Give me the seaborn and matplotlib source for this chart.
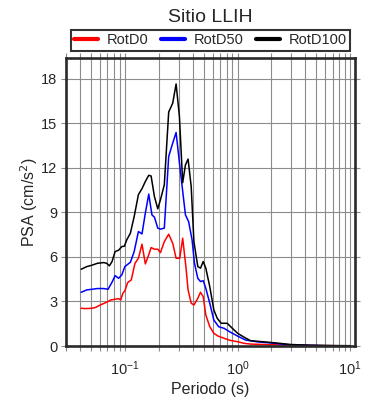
import numpy as np
import pandas as pd
import matplotlib
matplotlib.use("Agg")
import matplotlib.pyplot as plt
import seaborn as sns
from matplotlib.ticker import LogLocator, NullFormatter, MultipleLocator

sns.set_style("ticks")
plt.rcParams['font.family'] = ['Liberation Sans', 'DejaVu Sans']

# RotD0
period_d0 = [0.041, 0.045, 0.051, 0.055, 0.059, 0.063, 0.069, 0.075, 0.082, 0.088,
             0.092, 0.096, 0.1, 0.106, 0.114, 0.123, 0.132, 0.142, 0.152, 0.163,
             0.171, 0.183, 0.196, 0.207, 0.224, 0.245, 0.266, 0.285, 0.307, 0.326,
             0.348, 0.364, 0.388, 0.41, 0.444, 0.469, 0.496, 0.523, 0.567, 0.616,
             0.67, 0.76, 0.86, 1.0, 1.14, 1.3, 1.7, 2.4, 3.5, 5.0, 7.0, 10.0]
psa_d0 = [2.54, 2.52, 2.54, 2.6, 2.72, 2.82, 2.95, 3.1, 3.15, 3.19,
          3.1, 3.55, 3.71, 4.27, 4.45, 5.57, 5.91, 6.86, 5.53, 6.14,
          6.63, 6.52, 6.52, 6.29, 7.03, 7.53, 6.92, 5.91, 5.91, 7.26,
          5.35, 3.78, 2.88, 2.76, 3.21, 3.62, 3.32, 2.09, 1.3, 0.86,
          0.67, 0.52, 0.38, 0.29, 0.18, 0.13, 0.1, 0.07, 0.05, 0.03, 0.02, 0.01]

# RotD50
period_d50 = [0.041, 0.046, 0.051, 0.057, 0.065, 0.071, 0.077, 0.082, 0.088, 0.094,
              0.1, 0.112, 0.121, 0.132, 0.142, 0.152, 0.163, 0.174, 0.183, 0.196,
              0.207, 0.224, 0.245, 0.266, 0.285, 0.31, 0.345, 0.368, 0.395, 0.415,
              0.444, 0.469, 0.496, 0.523, 0.567, 0.616, 0.68, 0.76, 0.85, 1.0,
              1.18, 1.5, 2.0, 2.8, 4.0, 6.0, 10.0]
psa_d50 = [3.62, 3.78, 3.82, 3.87, 3.87, 3.82, 4.3, 4.74, 4.56, 4.79,
           5.35, 5.64, 6.36, 7.71, 7.55, 8.95, 10.23, 8.83, 8.68, 7.94,
           7.87, 7.94, 12.77, 13.67, 14.38, 11.87, 8.83, 8.38, 7.15, 5.57,
           4.56, 4.34, 4.4, 3.89, 2.88, 1.75, 1.3, 1.19, 0.96, 0.67,
           0.4, 0.28, 0.2, 0.09, 0.05, 0.02, 0.01]

# RotD100
period_d100 = [0.041, 0.046, 0.051, 0.057, 0.065, 0.069, 0.073, 0.077, 0.082, 0.088,
               0.094, 0.099, 0.104, 0.112, 0.121, 0.132, 0.142, 0.152, 0.163, 0.171,
               0.183, 0.196, 0.207, 0.224, 0.245, 0.266, 0.285, 0.305, 0.326, 0.345,
               0.364, 0.388, 0.41, 0.444, 0.469, 0.496, 0.523, 0.567, 0.616, 0.66,
               0.716, 0.81, 0.9, 1.0, 1.14, 1.3, 1.6, 2.1, 2.96, 4.5, 7.0, 10.0]
psa_d100 = [5.17, 5.35, 5.44, 5.57, 5.62, 5.57, 5.4, 5.69, 6.36, 6.45,
            6.7, 6.72, 7.15, 7.6, 8.72, 10.2, 10.6, 11.08, 11.5, 11.45,
            10.07, 9.24, 9.85, 10.86, 15.76, 16.36, 17.65, 15.46, 11.0, 12.2,
            12.59, 10.74, 7.03, 5.35, 5.24, 5.69, 5.24, 4.0, 2.43, 1.87,
            1.53, 1.53, 1.19, 0.86, 0.6, 0.36, 0.3, 0.22, 0.1, 0.05, 0.03, 0.02]

labels = ["RotD0", "RotD50", "RotD100"]
colors = ["#ff0000", "#0000ff", "#000000"]

df = pd.concat([
    pd.DataFrame({"Periodo": period_d0, "PSA": psa_d0, "Componente": labels[0]}),
    pd.DataFrame({"Periodo": period_d50, "PSA": psa_d50, "Componente": labels[1]}),
    pd.DataFrame({"Periodo": period_d100, "PSA": psa_d100, "Componente": labels[2]}),
], ignore_index=True)

fig = plt.figure(figsize=(3.9, 4.0), dpi=100)
ax = fig.add_axes([0.169, 0.135, 0.741, 0.72])

sns.lineplot(data=df, x="Periodo", y="PSA", hue="Componente", hue_order=labels,
             palette=dict(zip(labels, colors)), linewidth=1.1, ax=ax,
             estimator=None, sort=False, legend=False)

ax.set_xscale("log")
ax.set_xlim(0.03, 11)
ax.set_ylim(0, 19.4)
ax.yaxis.set_major_locator(MultipleLocator(3))
ax.xaxis.set_major_locator(LogLocator(base=10))
ax.xaxis.set_minor_locator(LogLocator(base=10, subs=np.arange(2, 10)))
ax.xaxis.set_minor_formatter(NullFormatter())

grid_color = "#8c8c8c"
ax.grid(True, which="both", axis="x", color=grid_color, linewidth=0.8)
ax.grid(True, which="major", axis="y", color=grid_color, linewidth=0.8)
ax.set_axisbelow(True)

for s in ax.spines.values():
    s.set_linewidth(1.9)
    s.set_color("#2a2a2a")
ax.tick_params(which="both", direction="out", top=True, right=True,
               color=grid_color, labelsize=10.5)
ax.tick_params(which="both", length=3.5, width=0.8)
ax.tick_params(axis="x", pad=6)
ax.tick_params(axis="y", pad=2.5)

ax.set_xlabel("Periodo (s)", fontsize=11.5, labelpad=3)
ax.set_ylabel("PSA (cm/s$^2$)", fontsize=11.5, labelpad=1)
ax.set_title("Sitio LLIH", fontsize=14, pad=26)

handles = [plt.Line2D([], [], color=c, linewidth=3) for c in colors]
leg = ax.legend(handles, labels, loc="lower center", bbox_to_anchor=(0.5, 1.025),
                ncol=3, fontsize=10.5, frameon=True, fancybox=False,
                handlelength=1.6, columnspacing=0.9, borderpad=0.25,
                handletextpad=0.6, borderaxespad=0)
leg.get_frame().set_edgecolor("black")
leg.get_frame().set_linewidth(1.5)

fig.savefig("out.png", dpi=100)
